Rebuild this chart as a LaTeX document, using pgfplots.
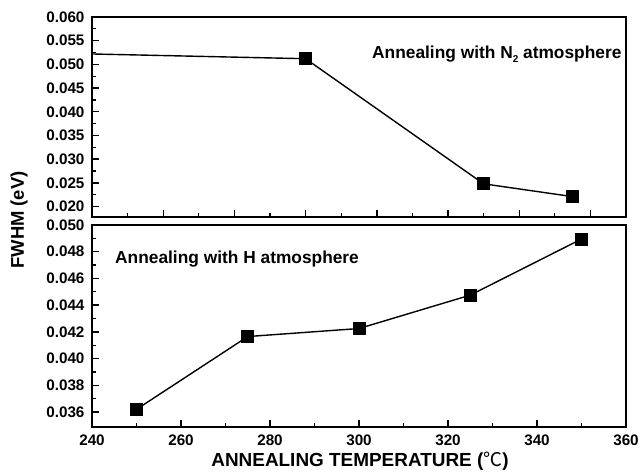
\documentclass[border=0pt]{standalone}
\usepackage{fontspec}
\setmainfont{Liberation Sans}
\newfontfamily\cjk{Noto Sans CJK SC}
\usepackage{pgfplots}
\pgfplotsset{compat=1.18}
\begin{document}
\begin{tikzpicture}
\useasboundingbox (0,0) rectangle (639bp,-473bp);
\pgfplotsset{
 every axis/.append style={
  scale only axis, width=534bp, xmin=240, xmax=360,
  axis line style={line width=1.8bp},
  major tick style={line width=1.4bp, black},
  minor tick style={line width=1.2bp, black},
  major tick length=7bp, minor tick length=4bp,
  tick align=inside, xtick pos=bottom, ytick pos=left,
  ticklabel style={font=\bfseries\fontsize{15.3}{16}\selectfont},
  y tick label style={xshift=-4bp},
  x tick label style={yshift=-5bp},
  /pgf/number format/assume math mode=true,
  scaled y ticks=false,
  y tick label style={/pgf/number format/fixed, /pgf/number format/fixed zerofill, /pgf/number format/precision=3},
 }}
\begin{axis}[at={(92bp,-17bp)}, anchor=north west, height=200bp,
  ymin=0.0178, ymax=0.060,
  ytick={0.020,0.025,0.030,0.035,0.040,0.045,0.050,0.055,0.060},
  minor y tick num=1,
  xtick={256,272,288,304,320,336,352},
  minor xtick={248,264,280,296,312,328,344},
  xticklabels={}]
\addplot[black, line width=1.4bp, mark=square*, mark size=5.8bp, mark indices={2,3,4}, mark options={solid}]
  coordinates {(240,0.0522)(288,0.0512)(328,0.0248)(348,0.0221)};
\end{axis}
\begin{axis}[at={(92bp,-225bp)}, anchor=north west, height=201.7bp,
  ymin=0.0349, ymax=0.050,
  ytick={0.036,0.038,0.040,0.042,0.044,0.046,0.048,0.050},
  minor y tick num=1,
  xtick={240,260,280,300,320,340,360},
  minor x tick num=1]
\addplot[black, line width=1.4bp, mark=square*, mark size=5.8bp, mark options={solid}]
  coordinates {(250,0.0362)(275,0.04165)(300,0.04225)(325,0.04475)(350,0.04895)};
\end{axis}
\node[anchor=base west, font=\bfseries\fontsize{17.4}{17}\selectfont, inner sep=0] at (372bp,-58bp) {Annealing with N\raisebox{-0.45ex}{\fontsize{10}{10}\selectfont 2} atmosphere};
\node[anchor=base west, font=\bfseries\fontsize{17.4}{17}\selectfont, inner sep=0] at (115bp,-263bp) {Annealing with H atmosphere};
\node[rotate=90, font=\bfseries\fontsize{18.5}{19}\selectfont] at (19bp,-220bp) {FWHM (eV)};
\node[font=\bfseries\fontsize{19}{19}\selectfont] at (360bp,-461bp) {ANNEALING TEMPERATURE ({\cjk\mdseries ℃})};
\end{tikzpicture}
\end{document}
